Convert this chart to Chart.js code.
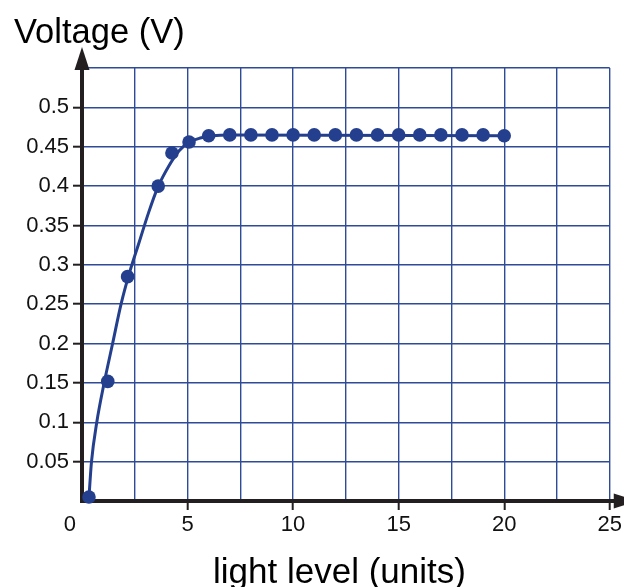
<!DOCTYPE html>
<html><head><meta charset="utf-8">
<script src="https://cdn.jsdelivr.net/npm/chart.js@4/dist/chart.umd.min.js"></script>
<style>html,body{margin:0;padding:0;background:#fff}#wrap{width:624px;height:587px;position:relative}</style>
</head><body><div id="wrap"><canvas id="c"></canvas></div>
<script>
// measured data points
const lightLevel = [0.33, 1.22, 2.16, 3.61, 4.26, 5.07, 6, 7, 8, 9, 10, 11, 12, 13, 14, 15, 16, 17, 18, 19, 20];
const voltage = [0.005, 0.152, 0.285, 0.400, 0.442, 0.456, 0.464, 0.465, 0.465, 0.465, 0.465, 0.465, 0.465, 0.465, 0.465, 0.465, 0.465, 0.465, 0.465, 0.465, 0.464];
// hand-drawn fit curve
const fitLight = [0.33, 0.45, 0.7, 1.05, 1.45, 1.85, 2.25, 2.7, 3.15, 3.6, 4.1, 4.6, 5.1, 5.6, 6.2, 7, 20];
const fitVoltage = [0.005, 0.05, 0.1, 0.15, 0.2, 0.25, 0.29, 0.328, 0.366, 0.399, 0.425, 0.445, 0.456, 0.461, 0.464, 0.465, 0.464];
// axes
const xGridValues = [0, 2.5, 5, 7.5, 10, 12.5, 15, 17.5, 20, 22.5, 25];
const xTickValues = [0, 5, 10, 15, 20, 25];
const xTickLabels = ['0    ', '5', '10', '15', '20', '25'];
const yGridValues = [0, 0.05, 0.1, 0.15, 0.2, 0.25, 0.3, 0.35, 0.4, 0.45, 0.5, 0.55];
const yTickLabels = ['', '0.05', '0.1', '0.15', '0.2', '0.25', '0.3', '0.35', '0.4', '0.45', '0.5', ''];
const yTitle = 'Voltage (V)';
const xTitle = 'light level (units)';

const BLUE = '#233f8d';
const GRID = '#2f4b98';
const AXIS = '#231f20';
const FONT = '"Liberation Sans", Arial, Helvetica, sans-serif';

const arrows = {
  id: 'arrows',
  afterDraw(chart) {
    const { ctx, chartArea: a } = chart;
    ctx.save();
    ctx.fillStyle = AXIS;
    ctx.beginPath();
    ctx.moveTo(a.left - 7.5, a.top + 2);
    ctx.lineTo(a.left + 7.5, a.top + 2);
    ctx.lineTo(a.left, a.top - 21);
    ctx.closePath(); ctx.fill();
    ctx.strokeStyle = AXIS; ctx.lineWidth = 4;
    ctx.beginPath(); ctx.moveTo(a.right, a.bottom); ctx.lineTo(a.right + 6, a.bottom); ctx.stroke();
    ctx.beginPath();
    ctx.moveTo(a.right + 4, a.bottom - 7.5);
    ctx.lineTo(a.right + 4, a.bottom + 7.5);
    ctx.lineTo(a.right + 27, a.bottom);
    ctx.closePath(); ctx.fill();
    ctx.fillStyle = '#000';
    ctx.textAlign = 'left'; ctx.textBaseline = 'alphabetic';
    ctx.font = '34.5px ' + FONT;
    ctx.fillText(yTitle, 14, 43);
    ctx.font = '35px ' + FONT;
    ctx.fillText(xTitle, 213, 583);
    ctx.restore();
  }
};

new Chart(document.getElementById('c'), {
  type: 'line',
  data: {
    datasets: [
      {
        data: lightLevel.map((x, i) => ({ x, y: voltage[i] })),
        showLine: false,
        pointRadius: 6.8,
        pointBackgroundColor: BLUE,
        pointBorderWidth: 0,
        clip: false,
        order: 0
      },
      {
        data: fitLight.map((x, i) => ({ x, y: fitVoltage[i] })),
        borderColor: BLUE,
        borderWidth: 3,
        pointRadius: 0,
        cubicInterpolationMode: 'monotone',
        fill: false,
        clip: false,
        order: 1
      }
    ]
  },
  options: {
    responsive: true,
    maintainAspectRatio: false,
    animation: false,
    events: [],
    layout: { padding: { top: 68, right: 14, left: 0, bottom: 0 } },
    plugins: { legend: { display: false }, tooltip: { enabled: false }, title: { display: false } },
    scales: {
      x: {
        type: 'linear', min: 0, max: 25,
        afterBuildTicks: s => { s.ticks = xGridValues.map(v => ({ value: v })); },
        afterFit: s => { s.height = 86; },
        grid: {
          color: c => (c.index === 0 ? 'rgba(0,0,0,0)' : GRID),
          lineWidth: 1.4,
          drawTicks: true,
          tickLength: 9,
          tickWidth: 2,
          tickColor: c => (c.tick && xTickValues.includes(c.tick.value) && c.tick.value !== 0 ? AXIS : 'rgba(0,0,0,0)')
        },
        border: { display: true, color: AXIS, width: 4 },
        ticks: {
          autoSkip: false, maxRotation: 0, padding: 2,
          color: '#111', font: { family: FONT, size: 22 },
          callback: v => { const k = xTickValues.indexOf(v); return k >= 0 ? xTickLabels[k] : ''; }
        }
      },
      y: {
        type: 'linear', min: 0, max: 0.55,
        afterBuildTicks: s => { s.ticks = yGridValues.map(v => ({ value: v })); },
        afterFit: s => { s.width = 82; },
        grid: {
          color: c => (c.index === 0 ? 'rgba(0,0,0,0)' : GRID),
          lineWidth: 1.4,
          drawTicks: true,
          tickLength: 9,
          tickWidth: 2,
          tickColor: c => (c.index === 0 || c.index === yGridValues.length - 1 ? 'rgba(0,0,0,0)' : AXIS)
        },
        border: { display: true, color: AXIS, width: 4 },
        ticks: {
          autoSkip: false, padding: 4,
          color: '#111', font: { family: FONT, size: 22 },
          callback: (v, i) => yTickLabels[i]
        }
      }
    }
  },
  plugins: [arrows]
});
</script>
</body></html>
